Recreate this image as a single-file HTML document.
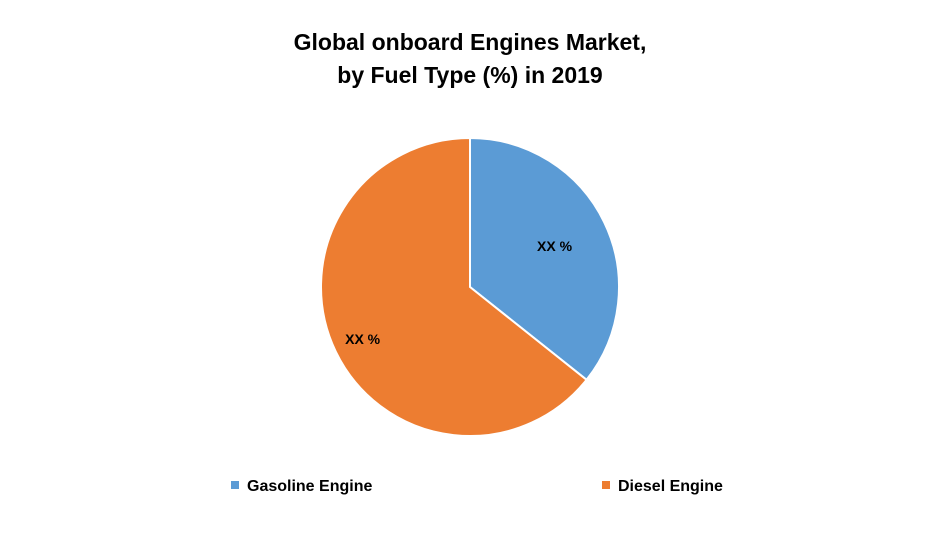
<!DOCTYPE html>
<html><head><meta charset="utf-8"><style>
body{margin:0;background:#fff;}
svg{display:block;font-family:"Liberation Sans",sans-serif;}
</style></head><body>
<svg id="chart" width="941" height="533">
<text x="470" y="50" text-anchor="middle" font-size="23" font-weight="bold" fill="#000">Global onboard Engines Market,</text>
<text x="470" y="83" text-anchor="middle" font-size="23" font-weight="bold" fill="#000">by Fuel Type (%) in 2019</text>
<g id="slices"></g>
<g id="legend"></g>
</svg>
<script>
const categories = ["Gasoline Engine", "Diesel Engine"];
const values = [35.7, 64.3];
const labels = ["XX %", "XX %"];
const colors = ["#5b9bd5", "#ed7d31"];
const labelR = [0.63, 0.8];
const cx = 470, cy = 287, r = 149;
const NS = "http://www.w3.org/2000/svg";
const g = document.getElementById("slices");
const total = values.reduce((a,b)=>a+b,0);
let a0 = 0;
function pt(a, rr){ return [cx + rr*Math.sin(a), cy - rr*Math.cos(a)]; }
values.forEach((v,i)=>{
  const a1 = a0 + v/total*2*Math.PI;
  const [x0,y0] = pt(a0,r), [x1,y1] = pt(a1,r);
  const large = (a1-a0) > Math.PI ? 1 : 0;
  const p = document.createElementNS(NS,"path");
  p.setAttribute("d",`M${cx},${cy} L${x0},${y0} A${r},${r} 0 ${large} 1 ${x1},${y1} Z`);
  p.setAttribute("fill",colors[i]);
  p.setAttribute("stroke","#fff");
  p.setAttribute("stroke-width","2");
  
  
  g.appendChild(p);
  const am = (a0+a1)/2;
  const [lx,ly] = pt(am, r*labelR[i]);
  const t = document.createElementNS(NS,"text");
  t.setAttribute("x",lx); t.setAttribute("y",ly+5);
  t.setAttribute("text-anchor","middle");
  t.setAttribute("font-size","14"); t.setAttribute("font-weight","bold");
  t.textContent = labels[i];
  
  
  g.appendChild(t);
  a0 = a1;
});
const lg = document.getElementById("legend");
const lxs = [231, 602];
categories.forEach((c,i)=>{
  const s = document.createElementNS(NS,"rect");
  s.setAttribute("x",lxs[i]); s.setAttribute("y",481);
  s.setAttribute("width",8); s.setAttribute("height",8);
  s.setAttribute("fill",colors[i]);
  
  
  lg.appendChild(s);
  const t = document.createElementNS(NS,"text");
  t.setAttribute("x",lxs[i]+16); t.setAttribute("y",491);
  t.setAttribute("font-size","16"); t.setAttribute("font-weight","bold");
  t.textContent = c;
  
  
  lg.appendChild(t);
});
</script>
</body></html>
